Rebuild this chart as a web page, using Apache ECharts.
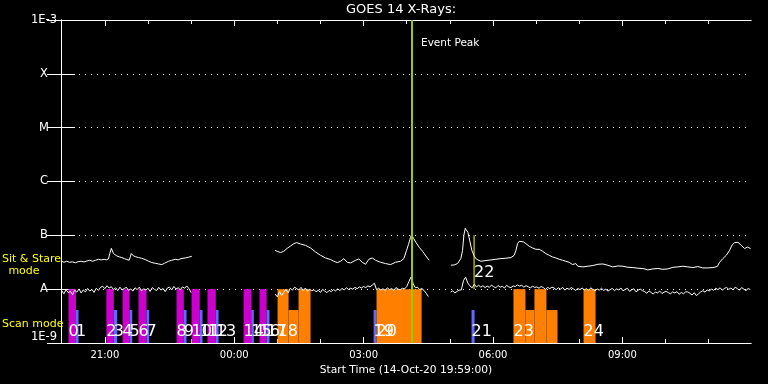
<!DOCTYPE html>
<html><head><meta charset="utf-8">
<script src="https://cdn.jsdelivr.net/npm/echarts@6/dist/echarts.min.js"></script>
<style>html,body{margin:0;padding:0;background:#000}#c{width:768px;height:384px}</style>
</head><body><div id="c"></div>
<script>
// x values: minutes since 14-Oct-20 19:59:00 ; flux values in units of 1e-9 W/m^2
const startMinuteOfDay = 19 * 60 + 59;
const xMaxMinutes = 960;
const labelTickMinutes = [61, 241, 421, 601, 781];
const hourTickMinutes = [1, 61, 121, 181, 241, 301, 361, 421, 481, 541, 601, 661, 721, 781, 841, 901];
const yTickLabels = ['1E-9', 'A', 'B', 'C', 'M', 'X', '1E-3'];

// GOES long channel (1-8 A)
const longSeg1 = [[0.7,33.0],[4,31.6],[8,33.0],[12,31.6],[16,32.2],[20,31.0],[24,32.4],[28,33.0],[32,32.0],[36,33.4],[40,34.4],[44,33.0],[48,34.4],[52,35.9],[56,35.0],[60,35.9],[63,35.0],[66,36.4],[68,46.4],[70,57.4],[71.5,52.7],[73,45.8],[75,43.5],[77.7,41.4],[81,39.8],[84.6,38.6],[88,37.0],[91.6,35.5],[94.8,34.4],[96.5,40.0],[97.7,45.8],[100.9,41.4],[104,40.0],[107.8,38.6],[112,37.5],[117.1,35.5],[122,33.0],[126.4,31.2],[131,30.3],[135.7,29.4],[140.3,28.6],[144,30.3],[149.6,33.0],[154,34.4],[158.9,35.9],[163,35.0],[167,37.0],[172.8,38.0],[177,39.1],[182,40.8]];
const longSeg2 = [[297.5,52.7],[300.8,50.6],[305.4,47.8],[310,50.6],[314.7,57.4],[319.4,63.4],[324,70.2],[327.7,73.3],[333.3,69.0],[340.2,65.3],[347.2,58.2],[354.1,49.1],[361.1,42.6],[368,38.0],[375,35.5],[379.6,33.0],[384.3,31.2],[389,33.0],[393.5,37.0],[398.2,31.6],[402.8,30.7],[409.8,34.4],[414.4,36.4],[419.1,31.6],[423.7,29.0],[428.3,35.9],[433,38.0],[437.6,34.4],[444.6,31.6],[451.5,29.9],[458.5,28.6],[465.4,31.6],[472.4,33.0],[477,37.0],[480.8,52.7],[483.5,68.1],[486.3,91.8],[487.7,103],[490.5,88.0],[493.7,74.2],[498.4,59.9],[503,50.6],[507.6,41.4],[512.3,34.4]];
const longSeg3 = [[542.4,27.8],[547.1,28.2],[551.7,29.9],[556.3,37.0],[558.7,52.7],[560.5,100],[562.4,135],[563.8,143],[566.1,114],[568.9,77.4],[571.6,52.7],[575,40.8],[578.2,35.9],[584.2,33.0],[591.1,34.0],[598.1,34.9],[605,35.9],[612,37.0],[619,37.5],[626,38.6],[630.6,42.6],[633,52.7],[635.2,70.2],[637.6,77.4],[639.8,80.8],[643.2,75.8],[646.8,70.2],[651.5,62.6],[656.1,58.2],[660.7,55.0],[665.4,55.0],[670,50.6],[674.6,45.8],[679.3,42.6],[683.9,39.6],[688.5,38.0],[693.2,35.9],[697.8,34.4],[702.4,33.0],[707.1,31.6],[711.7,28.6],[716.3,29.9],[719.1,26.7],[726.1,25.9],[733,26.7],[740,27.5],[747,29.0],[753.9,29.4],[760.9,27.8],[767.8,25.9],[774.8,27.0],[781.7,26.7],[788.7,25.5],[795.7,25.2],[802.6,24.5],[809.6,24.2],[816.5,22.8],[823.5,23.8],[830.4,24.2],[837.4,23.4],[844.4,23.8],[851.3,25.5],[858.3,25.9],[865.2,26.7],[872.2,25.9],[879.1,25.2],[886.1,26.3],[893,24.8],[900,24.8],[907,25.2],[913.1,26.3],[916.3,31.6],[920.9,37.0],[925.6,42.6],[930.2,52.7],[933.4,65.3],[937.2,73.3],[941.8,74.2],[946.5,65.3],[951.1,56.7],[954.8,60.7],[959.4,56.7]];

// GOES short channel (0.5-4 A), 3-minute samples
const shortStep = 3;
const shortSeg1Start = 1;
const shortSeg1 = [9.4,8.2,9.8,8.6,9.1,7.9,9.6,8.8,10.1,8.5, 9.7,8.9,10.3,9.2,9.9,8.7,10.4,9.5,10.8,11.3, 10.2,11.6,10.5,11.1,9.8,10.6,9.4,10.9,9.7,10.3, 10.8,9.5,10.1,9.2,10.6,9.8,10.9,9.3,10.2,9.6, 10.4,9.1,10.7,9.9,9.4,10.8,9.6,10.3,9.0,10.5, 10.9,9.7,11.2,10.1,10.6,9.8,11.0,10.4,11.5,10.2, 8.6];
const shortSeg2Start = 298;
const shortSeg2 = [8.1,7.2,9.0,7.6,8.8,9.9,8.5,10.4,9.6,10.9, 10.2,9.7,10.8,9.4,10.5,9.1,10.0,9.3,9.8,8.9, 9.6,8.7,9.9,9.2,8.6,9.5,9.0,9.8,9.3,10.1, 9.4,10.3,9.7,10.6,9.9,10.4,10.0,10.8,10.2,11.0, 10.5,11.2,10.7,11.5,11.0,11.9,12.9,9.8,10.4,9.6, 10.2,9.4,10.6,9.8,10.3,9.5,10.7,10.0,9.7,10.4, 10.1,11.2,13.8,16.9,12.5,10.6,10.9,9.8,10.3,9.5, 8.4,7.3];
const shortSeg3Start = 542;
const shortSeg3 = [8.8,9.3,8.5,9.1,9.6,9.7,14.5,16.6,13.0,11.5, 10.6,12.4,11.0,11.8,10.9,11.6,10.7,11.4,10.8,11.9, 11.1,10.6,11.7,10.9,11.3,10.5,11.8,11.0,10.7,11.5, 11.2,12.0,11.4,11.8,10.9,11.6,11.1,10.6,11.3,10.8, 11.0,10.4,11.2,10.7,9.9,10.8,10.2,10.9,10.5,9.8, 10.6,10.0,10.8,9.6,10.4,9.9,10.7,10.1,9.5,10.3, 9.8,10.5,9.7,10.2,9.4,10.6,9.9,9.3,10.1,9.6, 10.4,9.5,10.0,9.2,9.8,10.3,9.4,10.1,9.7,10.5, 9.3,9.9,10.4,9.1,9.7,10.2,8.9,9.6,10.0,9.4, 9.0,8.4,9.3,8.7,8.1,8.9,8.5,9.2,8.3,8.8, 9.1,8.6,8.2,8.9,8.5,9.0,8.0,8.7,8.2,8.9, 8.9,8.4,7.8,8.6,7.6,8.2,8.9,9.4,8.8,9.7, 9.2,10.1,9.5,10.4,9.8,10.6,9.6,10.3,10.8,9.9, 10.5,9.7,10.9,10.2,9.6,10.7,10.0,9.4,10.3,9.8];

// Observation bars: [start minute, end minute, top level]
const scanBars = [[10.4,20.9,10],[63.1,73.5,10],[85.6,95.3,10],[107.8,119.0,10],[160.7,170.9,10],[181.6,193.1,10],[203.8,215.4,10],[254.0,264.7,10],[276.2,286.0,10]];
const blueBars = [[20.9,24.4,4.1],[73.5,78.2,4.1],[95.3,99.1,4.1],[119.0,122.7,4.1],[170.9,174.7,4.1],[193.1,196.9,4.1],[215.4,219.2,4.1],[264.7,268.3,4.1],[286.0,290.1,4.1],[434.9,439.0,4.1],[571.2,575.4,4.1]];
const sitStareBars = [[301.3,316.6,10],[316.6,330.5,4.1],[330.5,347.2,10],[439.0,501.7,10],[629.5,646.2,10],[646.2,658.7,4.1],[658.7,675.4,10],[675.4,690.8,4.1],[727.0,743.7,10]];
const obsLabels = [[10.4,'0'],[20.9,'1'],[63.1,'2'],[73.5,'3'],[85.6,'4'],[95.3,'5'],[107.8,'6'],[119.0,'7'],[160.7,'8'],[170.9,'9'],[181.6,'10'],[193.1,'11'],[203.8,'12'],[215.4,'13'],[254.0,'14'],[264.7,'15'],[276.2,'16'],[286.0,'17'],[301.3,'18'],[434.9,'19'],[439.0,'20'],[571.2,'21'],[629.5,'23'],[727.0,'24']];
const markerLine = [[574.7, 10, 100, '22']];
const eventPeakMinute = 487.7;

const FONT = 'DejaVu Sans';
const N = 1e-9;
const yMin = 1e-9, yMax = 1e-3;
function pairs(seg){ return seg.map(p => [p[0], p[1] * N]); }
function sampled(start, vals){ return vals.map((v, i) => [start + i * shortStep, v * N]); }
function fmtTime(m){ const t = (startMinuteOfDay + m) % 1440; const h = Math.floor(t / 60), mm = Math.round(t % 60); return String(h).padStart(2,'0') + ':' + String(mm).padStart(2,'0'); }

function lineSeries(data, extra){
  return Object.assign({type:'line', data:data, xAxisIndex:0, yAxisIndex:0, showSymbol:false, symbol:'none',
    lineStyle:{color:'#ffffff', width:1}, z:3, silent:true, animation:false}, extra || {});
}
function barSeries(data, color){
  return {type:'custom', xAxisIndex:0, yAxisIndex:0, z:2, silent:true, animation:false, clip:true,
    encode:{x:[0,1], y:2},
    data:data.map(b => [b[0], b[1], b[2] * N]),
    renderItem:function(params, api){
      const p0 = api.coord([api.value(0), api.value(2)]);
      const p1 = api.coord([api.value(1), yMin]);
      return {type:'rect', shape:{x:p0[0], y:p0[1], width:p1[0]-p0[0], height:p1[1]-p0[1]}, style:{fill:color}};
    }};
}

const xBase = {type:'value', min:0, max:xMaxMinutes, gridIndex:0, splitLine:{show:false},
  axisLine:{show:true, lineStyle:{color:'#ffffff', width:1}}};
const yBase = {type:'log', logBase:10, min:yMin, max:yMax, gridIndex:0,
  axisLine:{show:true, lineStyle:{color:'#ffffff', width:1}},
  axisTick:{show:true, inside:true, length:14, lineStyle:{color:'#ffffff'}}};

const option = {
  backgroundColor:'#000000',
  animation:false,
  grid:{left:61, right:17, top:20, bottom:41},
  xAxis:[
    Object.assign({}, xBase, {position:'bottom', axisTick:{show:true, inside:true, length:4, customValues:hourTickMinutes, lineStyle:{color:'#fff'}}, axisLabel:{show:false}}),
    Object.assign({}, xBase, {position:'bottom', axisTick:{show:true, inside:true, length:6, customValues:labelTickMinutes, lineStyle:{color:'#fff'}},
      axisLabel:{show:true, customValues:labelTickMinutes, formatter:fmtTime, color:'#fff', fontFamily:FONT, fontSize:10, margin:7},
      name:'Start Time (14-Oct-20 19:59:00)', nameLocation:'middle', nameGap:19, nameTextStyle:{color:'#fff', fontFamily:FONT, fontSize:10.7}}),
    Object.assign({}, xBase, {position:'top', axisTick:{show:true, inside:true, length:4, customValues:hourTickMinutes, lineStyle:{color:'#fff'}}, axisLabel:{show:false}}),
    Object.assign({}, xBase, {position:'top', axisTick:{show:true, inside:true, length:6, customValues:labelTickMinutes, lineStyle:{color:'#fff'}}, axisLabel:{show:false}})
  ],
  yAxis:[
    Object.assign({}, yBase, {position:'left',
      splitLine:{show:true, lineStyle:{color:'#ffffff', width:1, type:[1,5]}},
      axisLabel:{show:true, align:'center', margin:17, color:'#fff', fontFamily:FONT, fontSize:11.5,
        verticalAlignMaxLabel:'top', verticalAlignMinLabel:'bottom',
        formatter:function(v){ const e = Math.round(Math.log10(v)); return yTickLabels[e + 9]; }}}),
    Object.assign({}, yBase, {position:'right', splitLine:{show:false}, axisLabel:{show:false}})
  ],
  graphic:[
    {type:'text', x:346, y:10, z:100, style:{text:'GOES 14 X-Rays:', fill:'#fff', font:'13px "' + FONT + '"', verticalAlign:'middle'}},
    {type:'text', x:421, y:43, z:100, style:{text:'Event Peak', fill:'#fff', font:'10.5px "' + FONT + '"', verticalAlign:'middle'}},
    {type:'text', x:2, y:259, z:100, style:{text:'Sit & Stare', fill:'#ffff00', font:'11px "' + FONT + '"', verticalAlign:'middle'}},
    {type:'text', x:24, y:271, z:100, style:{text:'mode', fill:'#ffff00', font:'11px "' + FONT + '"', verticalAlign:'middle', align:'center'}},
    {type:'text', x:2, y:324, z:100, style:{text:'Scan mode', fill:'#ffff00', font:'11px "' + FONT + '"', verticalAlign:'middle'}}
  ],
  series:[
    barSeries(scanBars, '#cc00cc'),
    barSeries(blueBars, '#6666ff'),
    barSeries(sitStareBars, '#ff8000'),
    lineSeries(pairs(longSeg1), {markLine:{symbol:'none', silent:true, animation:false, label:{show:false},
      lineStyle:{color:'#99cc00', width:2, type:'solid'}, data:[{xAxis:eventPeakMinute}]}, z:4}),
    lineSeries(pairs(longSeg2)),
    lineSeries(pairs(longSeg3)),
    lineSeries(sampled(shortSeg1Start, shortSeg1)),
    lineSeries(sampled(shortSeg2Start, shortSeg2)),
    lineSeries(sampled(shortSeg3Start, shortSeg3)),
    {type:'custom', xAxisIndex:0, yAxisIndex:0, z:5, silent:true, animation:false, encode:{x:0},
      data:obsLabels.map(d => [d[0], d[1]]),
      renderItem:function(params, api){
        const p = api.coord([api.value(0), yMin]);
        return {type:'text', x:p[0], y:p[1] - 11, style:{text:String(obsLabels[params.dataIndex][1]), fill:'#ffffff',
          font:'16px "' + FONT + '"', verticalAlign:'middle', align:'left'}};
      }},
    {type:'custom', xAxisIndex:0, yAxisIndex:0, z:5, silent:true, animation:false, encode:{x:0, y:[1,2]},
      data:markerLine.map(d => [d[0], d[1] * N, d[2] * N]),
      renderItem:function(params, api){
        const lo = api.coord([api.value(0), api.value(1)]);
        const hi = api.coord([api.value(0), api.value(2)]);
        return {type:'group', children:[
          {type:'line', shape:{x1:lo[0], y1:lo[1], x2:hi[0], y2:hi[1]}, style:{stroke:'#ffff00', lineWidth:1}},
          {type:'text', x:lo[0], y:lo[1] - 16.5, style:{text:markerLine[params.dataIndex][3], fill:'#ffffff',
            font:'16px "' + FONT + '"', verticalAlign:'middle', align:'left'}}
        ]};
      }}
  ]
};
const chart = echarts.init(document.getElementById('c'), null, {renderer:'canvas'});
chart.setOption(option);
</script></body></html>
